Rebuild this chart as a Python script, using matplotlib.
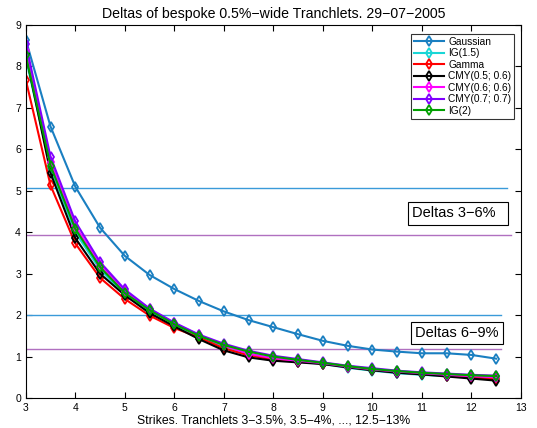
import matplotlib
matplotlib.use("Agg")
import matplotlib.pyplot as plt

plt.rcParams['font.family'] = ['Liberation Sans', 'DejaVu Sans']

# strikes (lower bound of each tranchlet, %)
strikes = [3, 3.5, 4, 4.5, 5, 5.5, 6, 6.5, 7, 7.5, 8, 8.5, 9, 9.5, 10, 10.5, 11, 11.5, 12, 12.5]

gaussian = [8.65, 6.55, 5.10, 4.11, 3.43, 2.97, 2.63, 2.34, 2.09, 1.88, 1.71, 1.54, 1.38, 1.26, 1.17, 1.12, 1.08, 1.08, 1.04, 0.95]
ig15 = [8.20, 5.55, 4.00, 3.10, 2.50, 2.08, 1.76, 1.48, 1.25, 1.06, 0.95, 0.88, 0.82, 0.73, 0.66, 0.60, 0.56, 0.53, 0.50, 0.48]
gamma = [7.68, 5.13, 3.73, 2.90, 2.39, 1.99, 1.69, 1.46, 1.20, 1.03, 0.93, 0.88, 0.83, 0.75, 0.68, 0.62, 0.58, 0.54, 0.50, 0.45]
cmy_05_06 = [8.30, 5.43, 3.86, 3.00, 2.48, 2.05, 1.73, 1.42, 1.15, 0.98, 0.90, 0.86, 0.82, 0.74, 0.67, 0.61, 0.57, 0.52, 0.47, 0.42]
cmy_06_06 = [8.38, 5.70, 4.15, 3.22, 2.58, 2.14, 1.80, 1.52, 1.27, 1.07, 0.96, 0.90, 0.84, 0.76, 0.69, 0.64, 0.60, 0.56, 0.53, 0.50]
cmy_07_07 = [8.55, 5.82, 4.26, 3.28, 2.62, 2.16, 1.82, 1.53, 1.31, 1.14, 1.02, 0.94, 0.86, 0.78, 0.72, 0.66, 0.62, 0.59, 0.56, 0.54]
ig2 = [8.27, 5.61, 4.08, 3.16, 2.53, 2.12, 1.78, 1.50, 1.28, 1.12, 1.00, 0.92, 0.85, 0.77, 0.70, 0.65, 0.61, 0.58, 0.55, 0.53]

labels = ['Gaussian', 'IG(1.5)', 'Gamma', 'CMY(0.5; 0.6)', 'CMY(0.6; 0.6)', 'CMY(0.7; 0.7)', 'IG(2)']
series = [gaussian, ig15, gamma, cmy_05_06, cmy_06_06, cmy_07_07, ig2]
colors = ['#1a7fc1', '#19d6d6', '#ff0000', '#000000', '#ff00ff', '#8000ff', '#00a000']

# reference levels: (y, x_end, colour)
levels = [(5.06, 12.72, '#3a9ad9'), (3.93, 12.8, '#b070c0'), (2.0, 12.6, '#3a9ad9'), (1.19, 12.6, '#b070c0')]

fig = plt.figure(figsize=(5.37, 4.28), dpi=100)
ax = fig.add_axes([0.048, 0.070, 0.922, 0.8716])

for y, xe, c in levels:
    ax.plot([3, xe], [y, y], color=c, lw=1.0)

for vals, lab, c in zip(series, labels, colors):
    ax.plot(strikes, vals, color=c, lw=1.5, marker='d', markersize=5.5,
            markerfacecolor='none', markeredgewidth=1.3, label=lab)

ax.set_xlim(3, 13)
ax.set_ylim(0, 9)
ax.set_xticks(range(3, 14))
ax.set_yticks(range(0, 10))
ax.tick_params(direction='in', top=True, right=True, labelsize=7.5, length=4, width=0.8)
for s in ax.spines.values():
    s.set_linewidth(0.8)

ax.set_title('Deltas of bespoke 0.5%\u2212wide Tranchlets. 29\u221207\u22122005', fontsize=10.2, pad=5)
ax.set_xlabel('Strikes. Tranchlets 3\u22123.5%, 3.5\u22124%, ..., 12.5\u221213%', fontsize=8.8, labelpad=1)

leg = ax.legend(loc='upper right', fontsize=7.3, frameon=True, fancybox=False,
                edgecolor='black', borderpad=0.3, labelspacing=0.15,
                handlelength=3.0, handletextpad=0.4, bbox_to_anchor=(0.997, 0.99))
leg.get_frame().set_linewidth(0.8)

box = dict(boxstyle='square,pad=0.3', facecolor='white', edgecolor='black', lw=0.8)
ax.text(10.8, 4.46, 'Deltas 3\u22126%  ', fontsize=10.5, ha='left', va='center', bbox=box)
ax.text(10.86, 1.57, 'Deltas 6\u22129%', fontsize=10.5, ha='left', va='center', bbox=box)

fig.savefig('out.png', dpi=100)
